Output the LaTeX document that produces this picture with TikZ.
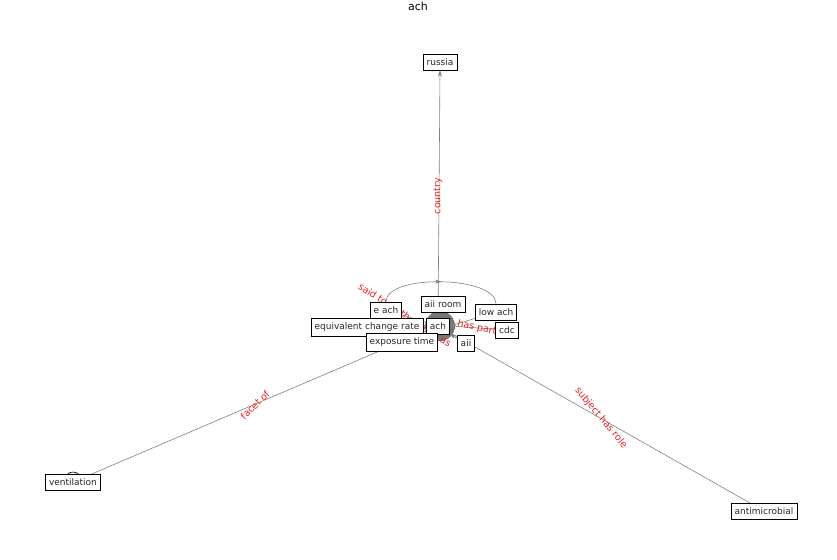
\documentclass[tikz,border=0pt]{standalone}
\usepackage{fontspec}
\setmainfont{DejaVu Sans}
\usetikzlibrary{arrows.meta,decorations.markings}
\definecolor{edgegray}{RGB}{128,128,128}
\definecolor{lblred}{RGB}{228,32,32}
\definecolor{blob}{RGB}{118,118,118}
\pgfdeclarelayer{background}
\pgfsetlayers{background,main}
\begin{document}
\begin{tikzpicture}[x=1pt,y=-1pt,
  ent/.style={draw=black,fill=white,font=\fontsize{9}{10}\selectfont,inner xsep=3.5pt,inner ysep=4.5pt,line width=0.6pt,text=black!85},
  rel/.style={draw=edgegray,line width=0.6pt},
  lbl/.style={text=lblred,font=\fontsize{9.5}{10}\selectfont,inner sep=0pt},
  tipped/.style={-{Stealth[length=6pt,width=4pt]}},
  midarrow/.style={decoration={markings,mark=at position 0.5 with {\arrow{Stealth[length=6pt,width=4pt]}}},postaction={decorate}}]
\useasboundingbox (0,0) rectangle (837,559);
\node[font=\fontsize{11}{12}\selectfont] (title) at (418,6) {ach};

\node[ent] (russia) at (440,62) {russia};
\node[ent] (aiiroom) at (443,304) {aii room};
\node[ent] (each) at (386,310) {e ach};
\node[ent] (lowach) at (496,312) {low ach};
\node[ent] (ecr) at (367,327) {equivalent change rate};
\node[ent] (ach) at (438,326) {ach};
\node[ent] (cdc) at (507,330) {cdc};
\node[ent] (expo) at (402,342) {exposure time};
\node[ent] (aii) at (466,343) {aii};
\node[ent] (vent) at (73,482) {ventilation};
\node[ent] (anti) at (764,511) {antimicrobial};

\begin{pgfonlayer}{background}
  \fill[blob] (440,326) circle (15);
  \draw[black,fill=gray!15,line width=0.6pt] (vent.center) ++(0,-2) circle (8);
  \draw[rel,tipped] (ach.center) -- (russia.south);
  \draw[rel] (ach.center) -- (vent.center);
  \draw[rel] (ach.center) -- (anti.center);
  \draw[rel] (each.center) -- (ach.center);
  \draw[rel,tipped] (lowach.center) -- (ach.east);
  \draw[rel,tipped] (cdc.center) -- (ach.east);
  \draw[rel,tipped] (aii.center) -- (ach.south east);
  \draw[rel,midarrow] (each.north) .. controls +(0,-28) and +(0,-28) .. (lowach.north);
  \node[lbl,rotate=90] (lcountry) at (438,196) {country};
  \node[lbl,rotate=45] (lfacet) at (255,405) {facet of};
  \node[lbl,rotate=-50] (lsubj) at (601,418) {subject has role};
  \node[lbl,rotate=-33] (lsaid) at (405,315) {said to be the same as};
  \node[lbl,rotate=-12] (lhaspart) at (477,328) {has part};
\end{pgfonlayer}
\end{tikzpicture}
\end{document}
